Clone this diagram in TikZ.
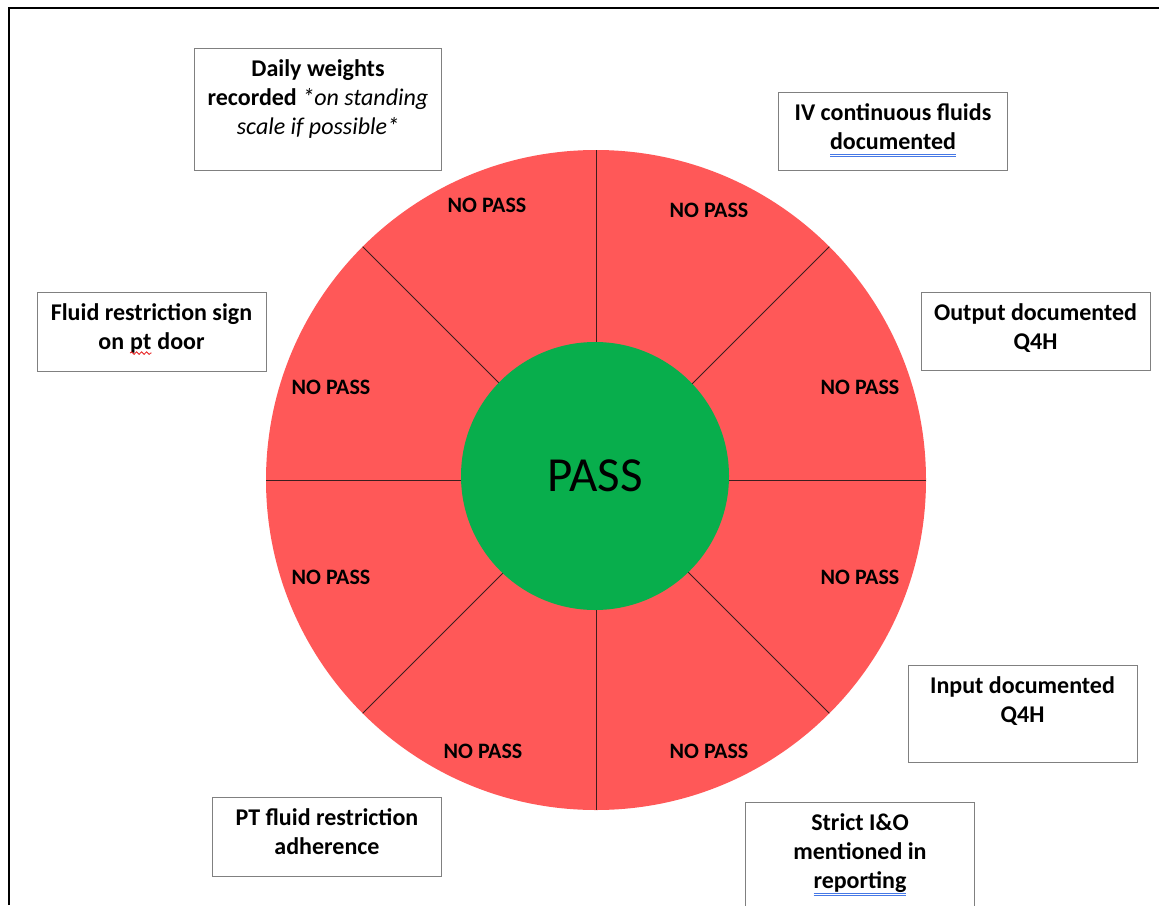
\documentclass[tikz,border=0pt]{standalone}
\usepackage{fontspec}
\setmainfont{Carlito}
\usepackage{xcolor}
\usetikzlibrary{positioning,decorations.pathmorphing}

\definecolor{wheelred}{RGB}{255,88,88}
\definecolor{centergreen}{RGB}{8,174,76}
\definecolor{boxgray}{RGB}{128,128,128}
\definecolor{spokecolor}{RGB}{60,30,30}
\definecolor{gramblue}{RGB}{70,120,230}
\definecolor{spellred}{RGB}{230,30,30}

% blue double underline and red wavy underline, as the word processor shows them
\newcommand{\gramcheck}[1]{\setbox0\hbox{#1}\rlap{\textcolor{gramblue}{\rule[-5pt]{\wd0}{0.9pt}}}\rlap{\textcolor{gramblue}{\rule[-7.5pt]{\wd0}{0.9pt}}}\copy0}
\newcommand{\spellcheck}[1]{\tikz[baseline=(sw.base), x=1pt, y=1pt]{\node (sw) [inner sep=0pt] {#1}; \draw [spellred, line width=0.8pt, decorate, decoration={snake, amplitude=1.3pt, segment length=5pt}] ([yshift=-3.5pt]sw.base west) -- ([yshift=-3.5pt]sw.base east);}}

\begin{document}
\begin{tikzpicture}[x=1pt, y=-1pt,
    checkbox/.style={rectangle, draw=boxgray, line width=1pt, minimum width=229pt, minimum height=79pt},
    boxtext/.style={align=center, inner sep=0pt, font=\bfseries\fontsize{24}{29}\selectfont},
    nopass/.style={font=\bfseries\fontsize{22}{24}\selectfont}]
    \useasboundingbox (0,0) rectangle (1159,905);
    \draw [line width=2pt] (9,905) -- (9,8) -- (1159,8);

    % wheel
    \fill [wheelred] (596,480) circle (330);
    \foreach \a in {0,45,...,315}
        \draw [spokecolor, line width=1pt] (596,480) -- ++(\a:330);
    \node (pass) [circle, fill=centergreen, minimum size=268pt, inner sep=0pt, font=\fontsize{49}{54}\selectfont] at (595,476) {PASS};

    \node (np1) [nopass] at (487,205) {NO PASS};
    \node (np2) [nopass] at (709,210) {NO PASS};
    \node (np3) [nopass] at (860,387) {NO PASS};
    \node (np4) [nopass] at (860,577) {NO PASS};
    \node (np5) [nopass] at (709,751) {NO PASS};
    \node (np6) [nopass] at (483,751) {NO PASS};
    \node (np7) [nopass] at (331,577) {NO PASS};
    \node (np8) [nopass] at (331,387) {NO PASS};

    % criteria boxes
    \node (daily) [checkbox, minimum width=247pt, minimum height=122pt] at (318,109) {};
    \node (ivfluids) [checkbox, minimum height=78pt] at (893,131) {};
    \node (signdoor) [checkbox] at (151.5,331.5) {};
    \node (output) [checkbox, minimum height=78pt] at (1035.5,331) {};
    \node (input) [checkbox, minimum height=97pt] at (1022.5,713.5) {};
    \node (adherence) [checkbox] at (327,836.5) {};
    \node (strictio) [checkbox, minimum height=130pt] at (860,867) {};

    \node [boxtext, below=12pt of daily.north] {Daily weights\\recorded \textmd{\itshape *on standing}\\\textmd{\itshape scale if possible*}};
    \node [boxtext, below=12pt of ivfluids.north] {IV continuous fluids\\\gramcheck{documented}};
    \node [boxtext, below=12pt of signdoor.north] {Fluid restriction sign\\on \spellcheck{pt} door};
    \node [boxtext, below=12pt of output.north] {Output documented\\Q4H};
    \node [boxtext, below=12pt of input.north] {Input documented\\Q4H};
    \node [boxtext, below=12pt of adherence.north] {PT fluid restriction\\adherence};
    \node [boxtext, below=12pt of strictio.north] {Strict I\&O\\mentioned in\\\gramcheck{reporting}};
\end{tikzpicture}
\end{document}
